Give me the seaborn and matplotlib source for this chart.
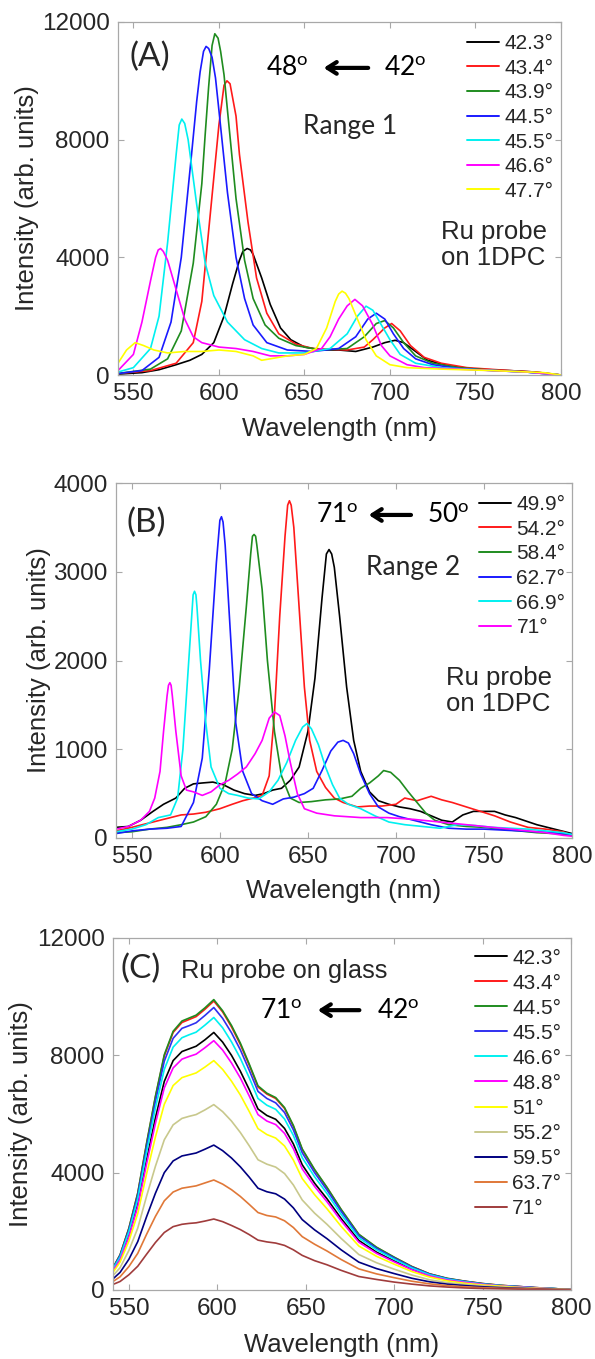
import matplotlib
matplotlib.use("Agg")
import matplotlib.pyplot as plt
from matplotlib.lines import Line2D
import numpy as np
import pandas as pd
import seaborn as sns

sns.set_theme(style="white")
plt.rcParams['font.family'] = ['Liberation Sans', 'DejaVu Sans']
plt.rcParams['mathtext.fontset'] = 'custom'
plt.rcParams['mathtext.rm'] = 'Lato'
plt.rcParams['mathtext.it'] = 'Lato:italic'
plt.rcParams['mathtext.bf'] = 'Lato:bold'

# ---------------- Panel A data ----------------
A_labels = ["42.3°", "43.4°", "43.9°", "44.5°", "45.5°", "46.6°", "47.7°"]
A_colors = ["#000000", "#ff1a1a", "#1f8c1f", "#1a1aff", "#00f0f0", "#ff00ff", "#ffff00"]

A_wl_423 = [541,555,565,575,583,590,597,603,608,612,614,616.5,618.5,620,625,630,636,642,650,660,670,680,690,697,703,708,715,722,735,750,770,785,800]
A_I_423 = [30,80,180,350,500,700,1100,2000,3100,3900,4200,4300,4250,4100,3300,2400,1600,1200,950,850,850,800,950,1100,1180,1100,800,500,300,200,150,100,0]

A_wl_434 = [541,560,575,585,590,595,600,603,604.7,606.5,610,612,617,622,628,635,645,655,675,685,690,697,701,706,712,720,730,745,770,785,800]
A_I_434 = [50,150,400,1100,2500,5500,8500,9850,10000,9900,8800,7500,5200,3300,2100,1400,1050,900,850,950,1200,1600,1750,1500,1000,600,400,250,150,100,0]

A_wl_439 = [541,560,570,578,585,590,592,594,596,597.6,599.5,601,603,605,610,615,620,627,635,645,660,675,685,692,697,702,708,715,725,740,760,780,800]
A_I_439 = [50,200,550,1500,3800,6500,8200,9800,11200,11600,11450,11000,10200,9000,6000,3900,2600,1700,1250,1000,850,900,1300,1750,1850,1600,1100,650,400,250,160,100,0]

A_wl_445 = [541,555,565,572,578,584,587,589,591,592.5,594,596,598,600,605,610,615,620,628,640,655,670,680,687,692,697,702,708,715,725,740,760,780,800]
A_I_445 = [50,150,600,1800,4000,7500,9300,10300,11000,11170,11100,10800,10100,9000,6200,4000,2600,1700,1100,850,800,900,1300,1900,2100,1900,1400,900,550,350,220,150,100,0]

A_wl_455 = [541,550,560,565,570,575,576.8,578.3,580,582,587,592,597,605,615,625,635,650,665,675,681,686,690,695,700,706,715,730,750,780,800]
A_I_455 = [100,250,900,2000,4500,7500,8500,8700,8550,8000,5800,3800,2700,1800,1200,900,750,750,900,1400,2000,2340,2200,1700,1200,700,400,250,180,100,0]

A_wl_466 = [541,550,555,560,563,564.5,565.9,567.5,570,575,580,585,590,600,610,620,630,640,650,660,665,670,675,679.5,684,690,695,700,710,720,740,760,780,800]
A_I_466 = [150,700,1800,3200,4000,4250,4300,4200,3900,2900,1900,1300,1100,950,900,800,650,650,700,900,1300,1900,2350,2570,2350,1700,1000,650,350,250,200,150,100,0]

A_wl_477 = [541,546,551,556,562,570,580,590,600,610,620,625,630,640,650,657,663,668,670,672,674,676,681,686,692,700,710,730,760,790,800]
A_I_477 = [400,850,1100,1000,850,750,800,800,850,800,650,500,550,650,700,900,1600,2500,2750,2850,2780,2600,1900,1200,650,350,250,200,150,80,0]

A_wls = [A_wl_423, A_wl_434, A_wl_439, A_wl_445, A_wl_455, A_wl_466, A_wl_477]
A_Is = [A_I_423, A_I_434, A_I_439, A_I_445, A_I_455, A_I_466, A_I_477]

# ---------------- Panel B data ----------------
B_labels = ["49.9°", "54.2°", "58.4°", "62.7°", "66.9°", "71°"]
B_colors = ["#000000", "#ff1a1a", "#1f8c1f", "#1a1aff", "#00f0f0", "#ff00ff"]

B_wl_499 = [541,548,555,562,568,575,580,585,590,596,602,608,614,620,625,630,635,640,645,650,654,658,660.5,662,663.5,665,668,672,676,680,685,690,696,702,708,714,720,726,732,738,744,750,756,762,768,774,780,786,792,800]
B_I_499 = [120,130,200,300,380,450,560,610,620,630,600,540,500,480,500,540,560,650,800,1200,1800,2700,3200,3250,3200,3050,2500,1700,1100,750,520,420,380,350,330,300,250,200,180,260,300,300,300,260,230,190,150,120,90,50]

B_wl_542 = [541,550,560,570,578,585,592,600,607,613,619,624,628,631,634,637,638.5,639.5,640.5,642,645,648,651,655,660,665,670,678,685,692,700,705,712,720,726,732,740,748,756,765,775,785,795,800]
B_I_542 = [80,120,170,220,260,270,290,330,380,420,450,480,700,1400,2500,3400,3750,3800,3750,3500,2600,1700,1100,750,570,450,400,350,360,360,380,450,420,470,430,400,350,300,250,180,120,100,70,30]

B_wl_584 = [541,550,560,570,578,585,592,598,603,607,611,615,617.5,618.5,619.4,620.3,621,624,627,631,635,640,645,652,660,668,675,680,685,690,693,697,702,707,712,717,722,730,740,750,760,770,780,790,800]
B_I_584 = [60,70,100,120,150,180,240,380,620,1000,1700,2600,3200,3400,3420,3400,3300,2800,2000,1200,700,450,400,410,430,440,470,560,620,700,760,740,650,520,400,280,200,150,130,120,100,80,60,50,30]

B_wl_627 = [541,550,560,570,578,585,590,594,598,600,600.9,601.8,603,606,609,613,618,624,630,636,642,648,653,658,663,667,670,673,676,680,685,690,696,702,710,720,730,740,750,760,770,780,790,800]
B_I_627 = [50,80,100,110,130,400,900,1900,3100,3580,3620,3560,3300,2300,1300,750,500,420,380,440,460,500,560,760,980,1080,1100,1070,950,720,500,350,280,240,200,150,110,100,100,90,80,70,60,40]

B_wl_669 = [541,550,558,565,572,576,579,582,584,584.8,585.6,586.4,587,589,592,595,600,605,610,616,622,628,633,638,643,647,649.5,652,656,660,664,668,673,680,688,696,705,715,725,735,745,755,765,775,785,795,800]
B_I_669 = [70,100,150,230,260,450,1000,1900,2500,2740,2780,2740,2600,2000,1300,800,560,500,480,450,440,520,650,850,1100,1250,1290,1230,1050,800,600,450,380,330,250,180,150,130,110,150,140,120,110,100,80,60,40]

B_wl_71 = [541,548,555,560,563,566,568,570,570.8,571.6,572.3,573,575,578,581,585,590,595,600,605,610,615,620,624,628,631,634,637,640,644,648,655,665,680,695,710,725,740,755,770,785,795,800]
B_I_71 = [100,130,200,300,450,750,1200,1600,1720,1750,1720,1600,1200,700,540,520,480,520,600,650,720,800,950,1100,1350,1420,1380,1150,850,500,330,280,250,230,230,210,180,150,120,90,60,30,20]

B_wls = [B_wl_499, B_wl_542, B_wl_584, B_wl_627, B_wl_669, B_wl_71]
B_Is = [B_I_499, B_I_542, B_I_584, B_I_627, B_I_669, B_I_71]

# ---------------- Panel C data ----------------
C_labels = ["42.3°", "43.4°", "44.5°", "45.5°", "46.6°", "48.8°", "51°", "55.2°", "59.5°", "63.7°", "71°"]
C_colors = ["#000000", "#ff1a1a", "#1f8c1f", "#3030f0", "#00f0f0", "#ff00ff", "#ffff00",
            "#c8c88c", "#000080", "#e07838", "#a03c3c"]

C_wl = [541,545,550,555,560,565,570,575,580,584,588,593,598,603,608,613,618,623,628,633,638,643,648,655,662,670,680,690,700,710,720,730,740,750,760,770,780,790,800]

C_I_423 = [680,1060,1870,2930,4440,5870,7110,7820,8130,8220,8310,8530,8780,8450,8000,7460,6840,6170,5950,5820,5510,4980,4270,3640,3110,2440,1690,1290,990,710,490,350,260,190,140,110,70,40,10]
C_I_434 = [760,1190,2100,3290,4980,6580,7980,8780,9120,9220,9320,9570,9850,9480,8970,8370,7670,6920,6680,6530,6190,5580,4790,4090,3490,2740,1890,1450,1110,800,550,390,300,220,160,120,80,50,10]
C_I_445 = [760,1200,2110,3310,5010,6610,8020,8820,9170,9270,9370,9620,9900,9520,9020,8420,7710,6960,6710,6560,6220,5610,4810,4110,3500,2750,1900,1460,1120,800,550,400,300,220,160,120,80,50,10]
C_I_455 = [740,1170,2050,3220,4870,6430,7800,8580,8920,9010,9110,9360,9630,9260,8770,8190,7500,6770,6530,6380,6050,5460,4680,4000,3410,2680,1850,1420,1090,780,540,385,290,210,150,120,80,50,10]
C_I_466 = [720,1120,1980,3100,4700,6210,7520,8280,8600,8700,8790,9030,9290,8940,8460,7900,7240,6530,6300,6160,5830,5270,4510,3860,3290,2580,1780,1370,1050,750,520,370,280,200,150,110,70,50,10]
C_I_488 = [650,1030,1810,2840,4300,5680,6890,7570,7870,7960,8040,8260,8500,8180,7740,7230,6620,5980,5760,5640,5340,4820,4130,3530,3010,2360,1630,1250,960,690,480,340,260,190,140,100,70,40,10]
C_I_51 = [600,950,1670,2610,3960,5220,6330,6970,7240,7320,7400,7600,7820,7520,7120,6650,6090,5500,5300,5180,4910,4430,3800,3250,2770,2170,1500,1150,880,630,440,310,230,170,130,90,60,40,10]
C_I_552 = [490,760,1350,2110,3200,4220,5120,5630,5850,5920,5980,6140,6320,6080,5760,5370,4920,4440,4290,4190,3970,3580,3070,2620,2240,1760,1210,930,710,510,350,250,190,140,100,80,50,30,10]
C_I_595 = [380,600,1050,1650,2500,3300,4000,4400,4570,4620,4670,4800,4940,4750,4500,4200,3850,3470,3350,3280,3100,2800,2400,2050,1750,1370,950,730,560,400,280,200,150,110,80,60,40,20,10]
C_I_637 = [290,450,800,1250,1900,2510,3040,3340,3470,3510,3550,3650,3750,3610,3420,3190,2920,2640,2540,2490,2360,2130,1820,1560,1330,1040,720,550,420,300,210,150,110,80,60,50,30,20,10]
C_I_71 = [190,290,520,810,1220,1620,1960,2160,2240,2270,2290,2350,2420,2330,2200,2060,1890,1700,1640,1600,1520,1370,1180,1000,860,670,460,360,270,200,140,100,70,50,40,30,20,10,0]

C_Is = [C_I_423, C_I_434, C_I_445, C_I_455, C_I_466, C_I_488, C_I_51, C_I_552, C_I_595, C_I_637, C_I_71]
C_wls = [C_wl] * len(C_Is)

X_TICKS = [550, 600, 650, 700, 750, 800]

W, H = 595, 1359
fig = plt.figure(figsize=(W / 100, H / 100), dpi=100)
fig.patch.set_facecolor("white")


def axes_px(l, t, r, b):
    return fig.add_axes([l / W, 1 - b / H, (r - l) / W, (b - t) / H])


TXT = "#262626"
SPINE = "#a8a8a8"


def panel(ax, wls, Is, labels, colors, ymax, yticks, leg_xy, ylab_x, xlab_y, lspace):
    frames = []
    for wl, I, lab in zip(wls, Is, labels):
        frames.append(pd.DataFrame({"Wavelength": wl, "Intensity": I, "Angle": lab}))
    df = pd.concat(frames, ignore_index=True)
    pal = dict(zip(labels, colors))
    sns.lineplot(data=df, x="Wavelength", y="Intensity", hue="Angle", hue_order=labels,
                 palette=pal, estimator=None, sort=True, linewidth=1.2, ax=ax, legend=False)
    ax.set_xlim(541, 800)
    ax.set_ylim(0, ymax)
    ax.set_xticks(X_TICKS)
    ax.set_yticks(yticks)
    ax.set_xticklabels([str(v) for v in X_TICKS])
    ax.set_yticklabels([str(v) for v in yticks])
    for s in ax.spines.values():
        s.set_color(SPINE)
        s.set_linewidth(0.9)
        s.set_visible(True)
    ax.tick_params(direction="in", length=4, width=0.8, color=SPINE, top=True, right=True,
                   bottom=True, left=True, labelsize=17.5, labelcolor=TXT, pad=6)
    ax.set_xlabel("Wavelength (nm)", fontsize=18.5, color=TXT)
    ax.set_ylabel("Intensity (arb. units)", fontsize=18.5, color=TXT)
    ax.xaxis.label.set_va("center")
    ax.yaxis.label.set_va("center")
    ax.xaxis.set_label_coords(0.5, xlab_y)
    ax.yaxis.set_label_coords(ylab_x, 0.5)
    handles = [Line2D([0], [0], color=c, lw=1.4) for c in colors]
    ax.legend(handles, labels, loc="upper left", bbox_to_anchor=leg_xy, frameon=False,
              fontsize=15, handlelength=1.55, handletextpad=0.25, labelspacing=lspace,
              borderpad=0, borderaxespad=0, labelcolor=TXT)
    ax.set_facecolor("white")


CAL = ["Lato", "DejaVu Sans"]


def arrow_note(ax, left_txt, right_txt, fx_left, fx_al, fx_ar, fx_right, fy):
    ax.text(fx_left, fy, left_txt, transform=ax.transAxes, fontsize=19, family=CAL,
            va="center", ha="left", color="black")
    ax.text(fx_right, fy, right_txt, transform=ax.transAxes, fontsize=19, family=CAL,
            va="center", ha="left", color="black")
    ax.annotate("", xy=(fx_al, fy), xytext=(fx_ar, fy), xycoords="axes fraction",
                textcoords="axes fraction",
                arrowprops=dict(arrowstyle="->,head_length=0.55,head_width=0.35", lw=3, color="black"))


# Panel A
axA = axes_px(118, 22, 561, 375)
panel(axA, A_wls, A_Is, A_labels, A_colors, 12000, [0, 4000, 8000, 12000],
      (0.788, 0.966), -0.205, -0.153, 0.27)
axA.text(0.025, 0.945, "(A)", transform=axA.transAxes, fontsize=24, family=CAL, va="top", ha="left")
arrow_note(axA, r"$\mathrm{48}^{\mathrm{o}}$", r"$\mathrm{42}^{\mathrm{o}}$", 0.334, 0.458, 0.571, 0.600, 0.870)
axA.text(0.524, 0.705, "Range 1", transform=axA.transAxes, fontsize=19, family=CAL, va="center", ha="center")
axA.text(0.729, 0.368, "Ru probe\non 1DPC", transform=axA.transAxes, fontsize=18.5,
         va="center", ha="left", linespacing=1.1)

# Panel B
axB = axes_px(116, 483, 572, 838)
panel(axB, B_wls, B_Is, B_labels, B_colors, 4000, [0, 1000, 2000, 3000, 4000],
      (0.796, 0.966), -0.169, -0.149, 0.27)
axB.text(0.022, 0.93, "(B)", transform=axB.transAxes, fontsize=24, family=CAL, va="top", ha="left")
arrow_note(axB, r"$\mathrm{71}^{\mathrm{o}}$", r"$\mathrm{50}^{\mathrm{o}}$", 0.439, 0.548, 0.653, 0.682, 0.910)
axB.text(0.651, 0.763, "Range 2", transform=axB.transAxes, fontsize=19, family=CAL, va="center", ha="center")
axB.text(0.724, 0.414, "Ru probe\non 1DPC", transform=axB.transAxes, fontsize=18.5,
         va="center", ha="left", linespacing=1.1)

# Panel C
axC = axes_px(113, 938, 571, 1290)
panel(axC, C_wls, C_Is, C_labels, C_colors, 12000, [0, 4000, 8000, 12000],
      (0.790, 0.970), -0.201, -0.156, 0.29)
axC.text(0.017, 0.955, "(C)", transform=axC.transAxes, fontsize=24, family=CAL, va="top", ha="left")
axC.text(0.148, 0.906, "Ru probe on glass", transform=axC.transAxes, fontsize=18.3, va="center", ha="left")
arrow_note(axC, r"$\mathrm{71}^{\mathrm{o}}$", r"$\mathrm{42}^{\mathrm{o}}$", 0.321, 0.441, 0.544, 0.576, 0.795)

fig.savefig("out.png", dpi=100, facecolor="white")
